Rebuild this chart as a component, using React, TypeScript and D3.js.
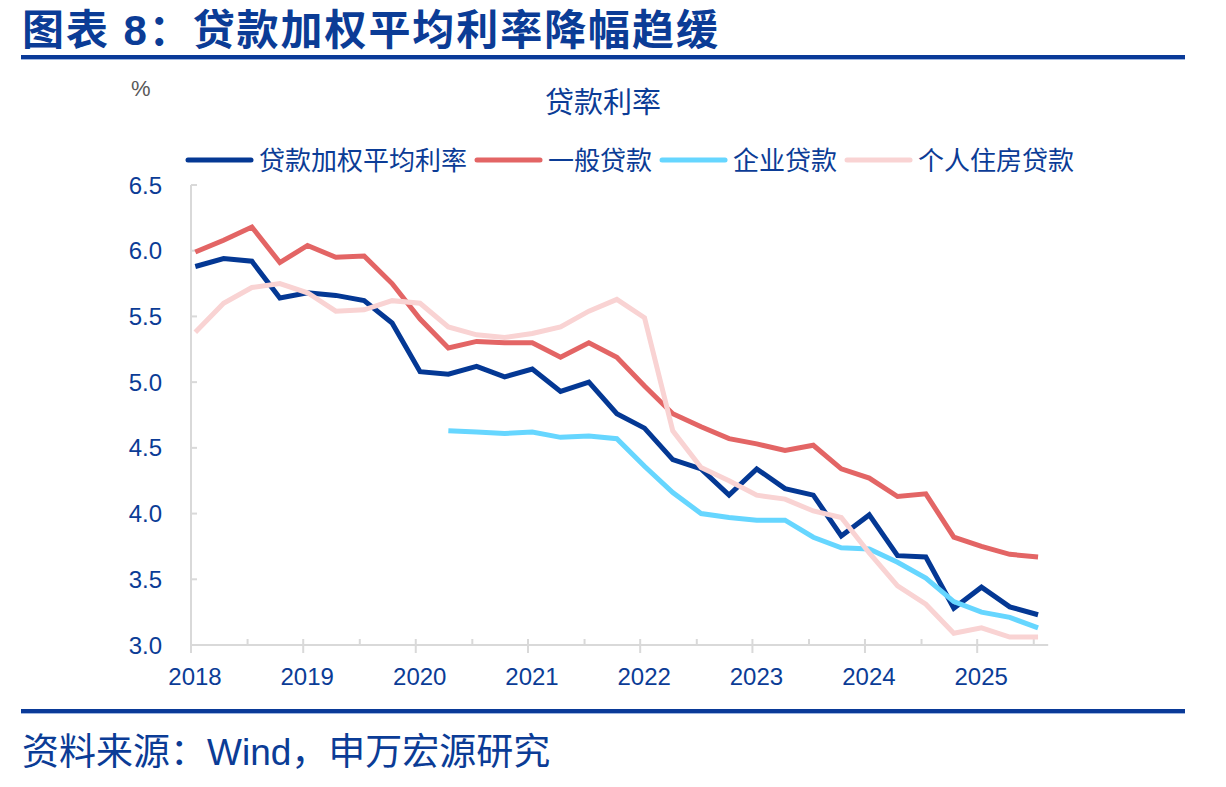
import React, { useRef, useEffect } from 'react';
import { select, line, scaleLinear, scaleTime, timeParse } from 'd3';

// quarter-end months, 2018Q1 .. 2025Q3
const quarters = [
  '2018-03', '2018-06', '2018-09', '2018-12',
  '2019-03', '2019-06', '2019-09', '2019-12',
  '2020-03', '2020-06', '2020-09', '2020-12',
  '2021-03', '2021-06', '2021-09', '2021-12',
  '2022-03', '2022-06', '2022-09', '2022-12',
  '2023-03', '2023-06', '2023-09', '2023-12',
  '2024-03', '2024-06', '2024-09', '2024-12',
  '2025-03', '2025-06', '2025-09',
];

// 贷款加权平均利率
const avgRate = [
  5.88, 5.94, 5.92, 5.64, 5.68, 5.66, 5.62, 5.45, 5.08, 5.06, 5.12, 5.04, 5.1, 4.93, 5.0, 4.76,
  4.65, 4.41, 4.34, 4.14, 4.34, 4.19, 4.14, 3.83, 3.99, 3.68, 3.67, 3.28, 3.44, 3.29, 3.23,
];
// 一般贷款
const generalLoan = [
  5.99, 6.08, 6.18, 5.91, 6.04, 5.95, 5.96, 5.75, 5.48, 5.26, 5.31, 5.3, 5.3, 5.19, 5.3, 5.19,
  4.97, 4.76, 4.66, 4.57, 4.53, 4.48, 4.52, 4.34, 4.27, 4.13, 4.15, 3.82, 3.75, 3.69, 3.67,
];
// 企业贷款 (starts 2020Q2)
const corpLoan = [
  null, null, null, null, null, null, null, null, null, 4.63, 4.62, 4.61, 4.62, 4.58, 4.59, 4.57,
  4.36, 4.16, 4.0, 3.97, 3.95, 3.95, 3.82, 3.74, 3.73, 3.63, 3.51, 3.33, 3.25, 3.21, 3.13,
];
// 个人住房贷款
const mortgage = [
  5.38, 5.6, 5.72, 5.75, 5.68, 5.54, 5.55, 5.62, 5.6, 5.42, 5.36, 5.34, 5.37, 5.42, 5.54, 5.63,
  5.49, 4.63, 4.35, 4.25, 4.14, 4.11, 4.02, 3.97, 3.7, 3.45, 3.31, 3.09, 3.13, 3.06, 3.06,
];

const seriesNames = ['贷款加权平均利率', '一般贷款', '企业贷款', '个人住房贷款'];
const seriesColors = ['#043894', '#e36565', '#66d6ff', '#f9d3d3'];

const yTicks = [3.0, 3.5, 4.0, 4.5, 5.0, 5.5, 6.0, 6.5];
const yearTicks = ['2018', '2019', '2020', '2021', '2022', '2023', '2024', '2025'];

const BLUE = '#0b3c96';
const AXIS = '#d9d9d9';
const FONT = '"Liberation Sans", Arial, "Noto Sans CJK SC", sans-serif';

const parseDay = timeParse('%Y-%m-%d');

const LoanChart = () => {
  const svgRef = useRef(null);

  useEffect(() => {
    const svg = select(svgRef.current);
    svg.selectAll('*').remove();

    // scales
    const x = scaleTime()
      .domain([parseDay('2018-03-01'), parseDay('2026-03-01')])
      .range([191, 191 + 8 * 112.3]);
    const y = scaleLinear().domain([3, 6.5]).range([645, 185]);
    const xEnd = x(parseDay('2025-10-18'));

    // header
    svg.append('text')
      .attr('x', 22).attr('y', 45)
      .attr('font-size', 42).attr('font-weight', 700)
      .attr('fill', BLUE).attr('font-family', FONT)
      .attr('textLength', 696).attr('lengthAdjust', 'spacing')
      .text('图表 8：贷款加权平均利率降幅趋缓');
    svg.append('rect').attr('x', 21).attr('y', 55).attr('width', 1164).attr('height', 4).attr('fill', '#0a3a98');
    svg.append('rect').attr('x', 21).attr('y', 59).attr('width', 1164).attr('height', 1).attr('fill', '#9fb6e0');

    svg.append('text')
      .attr('x', 131).attr('y', 96)
      .attr('font-size', 22).attr('fill', '#595959').attr('font-family', FONT)
      .text('%');
    svg.append('text')
      .attr('x', 603).attr('y', 113).attr('text-anchor', 'middle')
      .attr('font-size', 29).attr('fill', BLUE).attr('font-family', FONT)
      .text('贷款利率');

    // legend, laid out left to right
    let lx = 188;
    seriesNames.forEach((name, i) => {
      svg.append('line')
        .attr('x1', lx).attr('x2', lx + 63).attr('y1', 160).attr('y2', 160)
        .attr('stroke', seriesColors[i]).attr('stroke-width', 5).attr('stroke-linecap', 'round');
      const t = svg.append('text')
        .attr('x', lx + 71).attr('y', 170)
        .attr('font-size', 26).attr('fill', BLUE).attr('font-family', FONT)
        .text(name);
      lx += 71 + t.node().getComputedTextLength() + 10;
    });

    // y axis
    svg.append('line')
      .attr('x1', 191).attr('x2', 191).attr('y1', 185).attr('y2', 653)
      .attr('stroke', AXIS).attr('stroke-width', 2);
    yTicks.forEach((v) => {
      svg.append('line')
        .attr('x1', 191).attr('x2', 197).attr('y1', y(v)).attr('y2', y(v))
        .attr('stroke', AXIS).attr('stroke-width', 2);
      svg.append('text')
        .attr('x', 162).attr('y', y(v) + 8.5).attr('text-anchor', 'end')
        .attr('font-size', 24).attr('fill', BLUE).attr('font-family', FONT)
        .text(v.toFixed(1));
    });

    // x axis
    svg.append('line')
      .attr('x1', 191).attr('x2', xEnd).attr('y1', y(3)).attr('y2', y(3))
      .attr('stroke', AXIS).attr('stroke-width', 2);
    yearTicks.forEach((yr) => {
      const xm = x(parseDay(yr + '-03-01'));
      const xh = x(parseDay(yr + '-09-01'));
      svg.append('line')
        .attr('x1', xm).attr('x2', xm).attr('y1', y(3) - 6).attr('y2', y(3) + 8)
        .attr('stroke', AXIS).attr('stroke-width', 2);
      svg.append('line')
        .attr('x1', xh).attr('x2', xh).attr('y1', y(3) - 6).attr('y2', y(3))
        .attr('stroke', AXIS).attr('stroke-width', 2);
      svg.append('text')
        .attr('x', xm + 4).attr('y', 685).attr('text-anchor', 'middle')
        .attr('font-size', 24).attr('fill', BLUE).attr('font-family', FONT)
        .text(yr);
    });

    // series
    const seriesData = [avgRate, generalLoan, corpLoan, mortgage];
    const myLine = line()
      .defined((d) => d[1] != null)
      .x((d) => x(parseDay(d[0] + '-15')))
      .y((d) => y(d[1]));

    seriesData.forEach((vals, i) => {
      svg.append('path')
        .datum(quarters.map((q, j) => [q, vals[j]]))
        .attr('d', myLine)
        .attr('fill', 'none')
        .attr('stroke', seriesColors[i])
        .attr('stroke-width', 5)
        .attr('stroke-linejoin', 'miter');
    });

    // footer
    svg.append('rect').attr('x', 21).attr('y', 709).attr('width', 1164).attr('height', 4).attr('fill', '#0a3a98');
    svg.append('rect').attr('x', 21).attr('y', 713).attr('width', 1164).attr('height', 1).attr('fill', '#9fb6e0');
    svg.append('text')
      .attr('x', 22).attr('y', 765)
      .attr('font-size', 37).attr('fill', BLUE).attr('font-family', FONT)
      .text('资料来源：Wind，申万宏源研究');
  }, []);

  return <svg ref={svgRef} width={1226} height={787} style={{ display: 'block' }}></svg>;
};

export default function App() {
  return (
    <main>
      <style>{'body{margin:0;background:#fff}'}</style>
      <LoanChart />
    </main>
  );
}
